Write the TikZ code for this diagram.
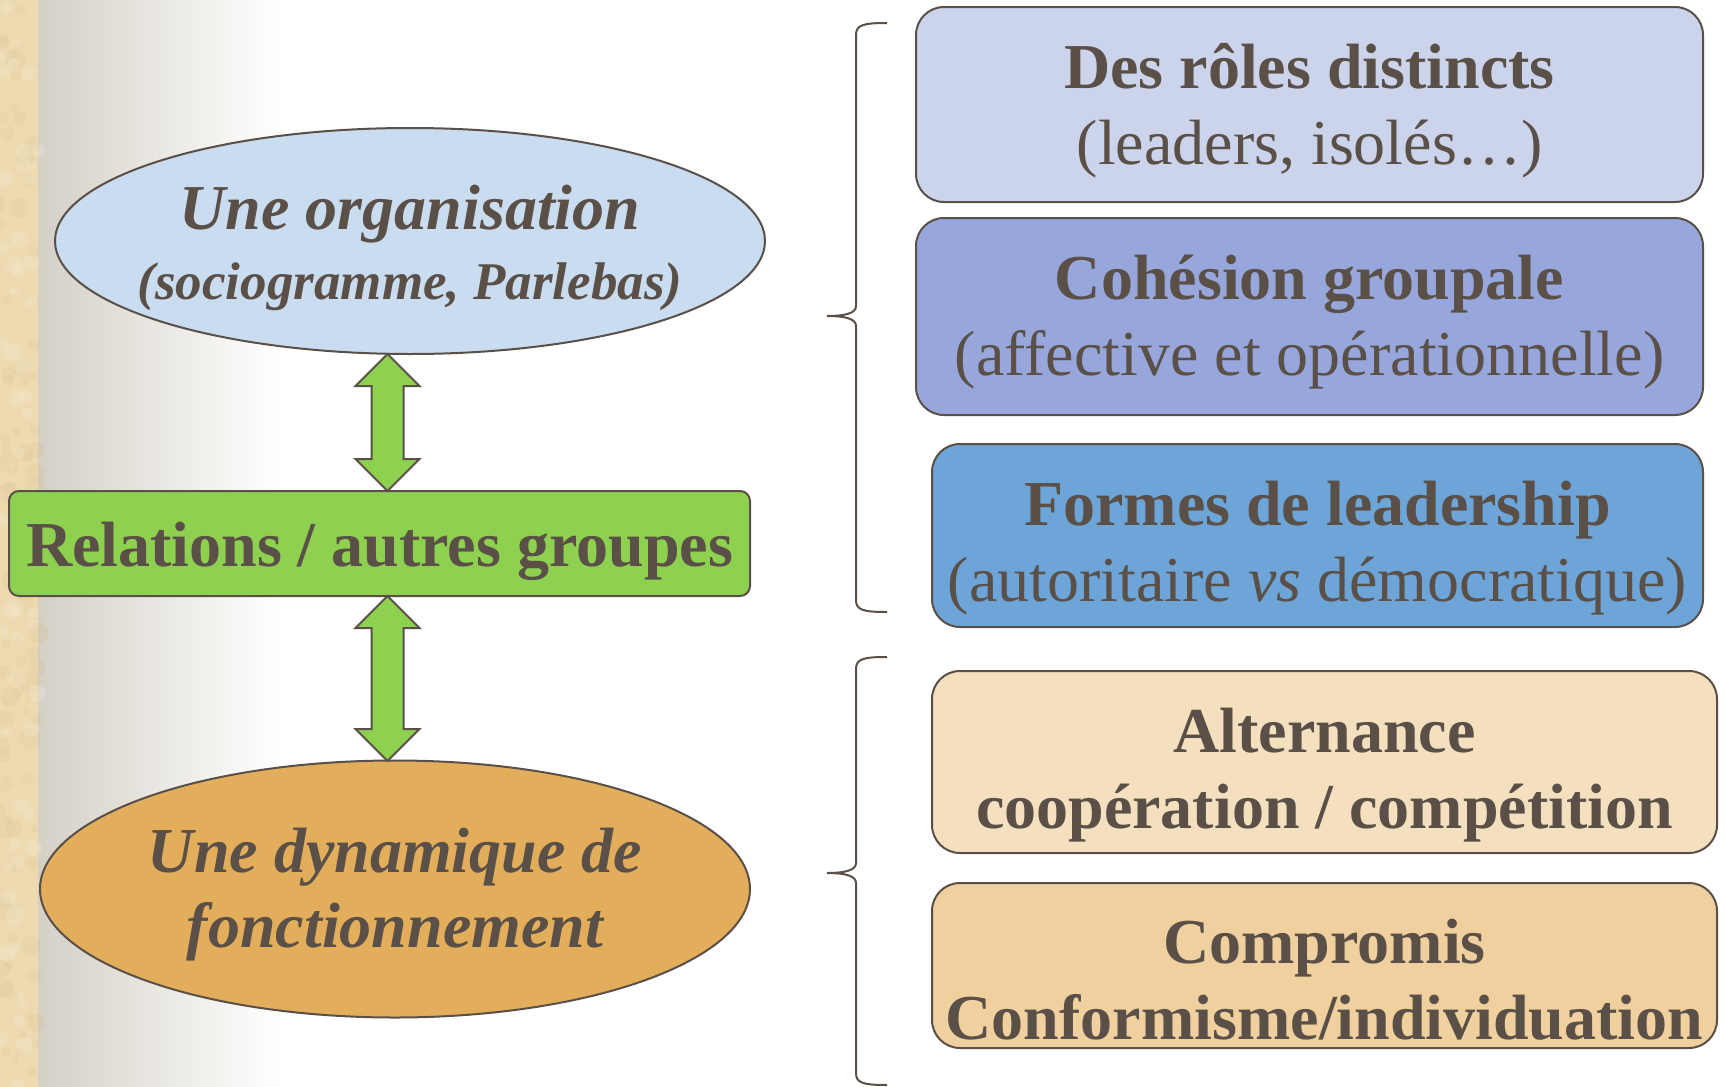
\documentclass[tikz,border=0pt]{standalone}
\usepackage{fontspec}
\setmainfont{Liberation Serif}
\usetikzlibrary{shapes.geometric,shapes.arrows}

\definecolor{ink}{HTML}{5A5048}
\definecolor{sand}{HTML}{EDDAB0}
\definecolor{sanddark}{HTML}{D2BC8E}
\definecolor{sidegray}{HTML}{D4D0C6}
\definecolor{orgblue}{HTML}{C9DCF0}
\definecolor{dynorange}{HTML}{E3AE5C}
\definecolor{leafgreen}{HTML}{8ED150}
\definecolor{lavender}{HTML}{CCD4EC}
\definecolor{periwinkle}{HTML}{97A7DC}
\definecolor{midblue}{HTML}{6DA5D9}
\definecolor{cream}{HTML}{F4E0BE}
\definecolor{tan}{HTML}{EFD09E}

% brace: top y, tip y, bottom y
\newcommand\grpbrace[3]{%
  \draw [bracestyle] (887,#1) .. controls (863,#1) and (856,{#1+2}) .. (856,{#1+12})
    -- (856,{#2-10}) .. controls (856,{#2-3}) and (846,#2) .. (827,#2)
    .. controls (846,#2) and (856,{#2+3}) .. (856,{#2+10})
    -- (856,{#3-12}) .. controls (856,{#3-2}) and (863,#3) .. (887,#3);}

\begin{document}
\begin{tikzpicture}[
  x=1pt, y=-1pt,
  every node/.style={text=ink},
  oval/.style={ellipse, draw=ink, line width=2pt, inner sep=0pt},
  card/.style={rectangle, rounded corners=28pt, draw=ink, line width=2pt, inner sep=0pt},
  cardtext/.style={align=center, inner sep=0pt, font=\fontsize{64}{76}\selectfont},
  dblarr/.style={double arrow, draw=ink, line width=2pt, fill=leafgreen,
    inner xsep=0pt, inner ysep=15pt, double arrow head extend=16pt, rotate=90},
  bracestyle/.style={draw=ink, line width=2pt},
]
\useasboundingbox (0,0) rectangle (1725,1087);

% background
\fill [white] (0,0) rectangle (1725,1087);
\shade [left color=sidegray, right color=white] (38,0) rectangle (280,1087);
\fill [sand] (0,0) rectangle (38,1087);
\pgfmathsetseed{7}
\foreach \i in {1,...,90}
  \fill [sanddark, opacity=0.25] ({rnd*38},{rnd*1087}) circle ({3+rnd*8});
\foreach \i in {1,...,60}
  \fill [white, opacity=0.2] ({rnd*38},{rnd*1087}) circle ({3+rnd*6});
\fill [sand, opacity=0.4] (0,0) rectangle (38,1087);

% left column
\node [oval, fill=orgblue, minimum width=710pt, minimum height=226pt] (org) at (410,241) {};
\node [cardtext, font=\bfseries\itshape] (orgtxt) at ([yshift=-7pt]org.center)
  {{\fontsize{64}{70}\selectfont Une organisation}\\[18pt]
   {\fontsize{53}{60}\selectfont (sociogramme, Parlebas)}};

\node [rectangle, rounded corners=10pt, draw=ink, line width=2pt, fill=leafgreen,
  minimum width=741pt, minimum height=105pt, inner sep=0pt] (rel) at (379.5,543.5) {};
\node [cardtext, font=\fontsize{64}{76}\selectfont\bfseries] (reltxt)
  at ([yshift=-8pt]rel.center) {Relations / autres groupes};

\node [oval, fill=dynorange, minimum width=710pt, minimum height=257pt] (dyn) at (395,889) {};
\node [cardtext, font=\fontsize{64}{75}\selectfont\bfseries\itshape] (dyntxt)
  at ([yshift=-6pt]dyn.center) {Une dynamique de\\fonctionnement};

\node [dblarr, minimum height=137pt] (arr1) at (387.5,422.5) {};
\node [dblarr, minimum height=165pt] (arr2) at (387.5,678.5) {};

% braces
\grpbrace{23}{316}{612}
\grpbrace{657}{873}{1085}

% right column
\node [card, fill=lavender, minimum width=787pt, minimum height=195pt] (roles) at (1309.5,104.5) {};
\node [cardtext] (rolestxt) at ([yshift=-6pt]roles.center)
  {\textbf{Des rôles distincts}\\(leaders, isolés…)};

\node [card, fill=periwinkle, minimum width=787pt, minimum height=197pt] (cohes) at (1309.5,316.5) {};
\node [cardtext] (cohestxt) at ([yshift=-6pt]cohes.center)
  {\textbf{Cohésion groupale}\\(affective et opérationnelle)};

\node [card, fill=midblue, minimum width=771pt, minimum height=183pt] (lead) at (1317.5,535.5) {};
\node [cardtext] (leadtxt) at ([yshift=-13pt]lead.center)
  {\textbf{Formes de leadership}\\(autoritaire \textit{vs} démocratique)};

\node [card, fill=cream, minimum width=785pt, minimum height=182pt] (alter) at (1324.5,762) {};
\node [cardtext, font=\fontsize{64}{76}\selectfont\bfseries] (altertxt) at ([yshift=-13pt]alter.center)
  {Alternance\\coopération / compétition};

\node [card, fill=tan, minimum width=785pt, minimum height=165pt] (compr) at (1324.5,965.5) {};
\node [cardtext, font=\fontsize{64}{76}\selectfont\bfseries] (comprtxt) at ([yshift=-14pt]compr.center)
  {Compromis\\Conformisme/individuation};

\end{tikzpicture}
\end{document}
